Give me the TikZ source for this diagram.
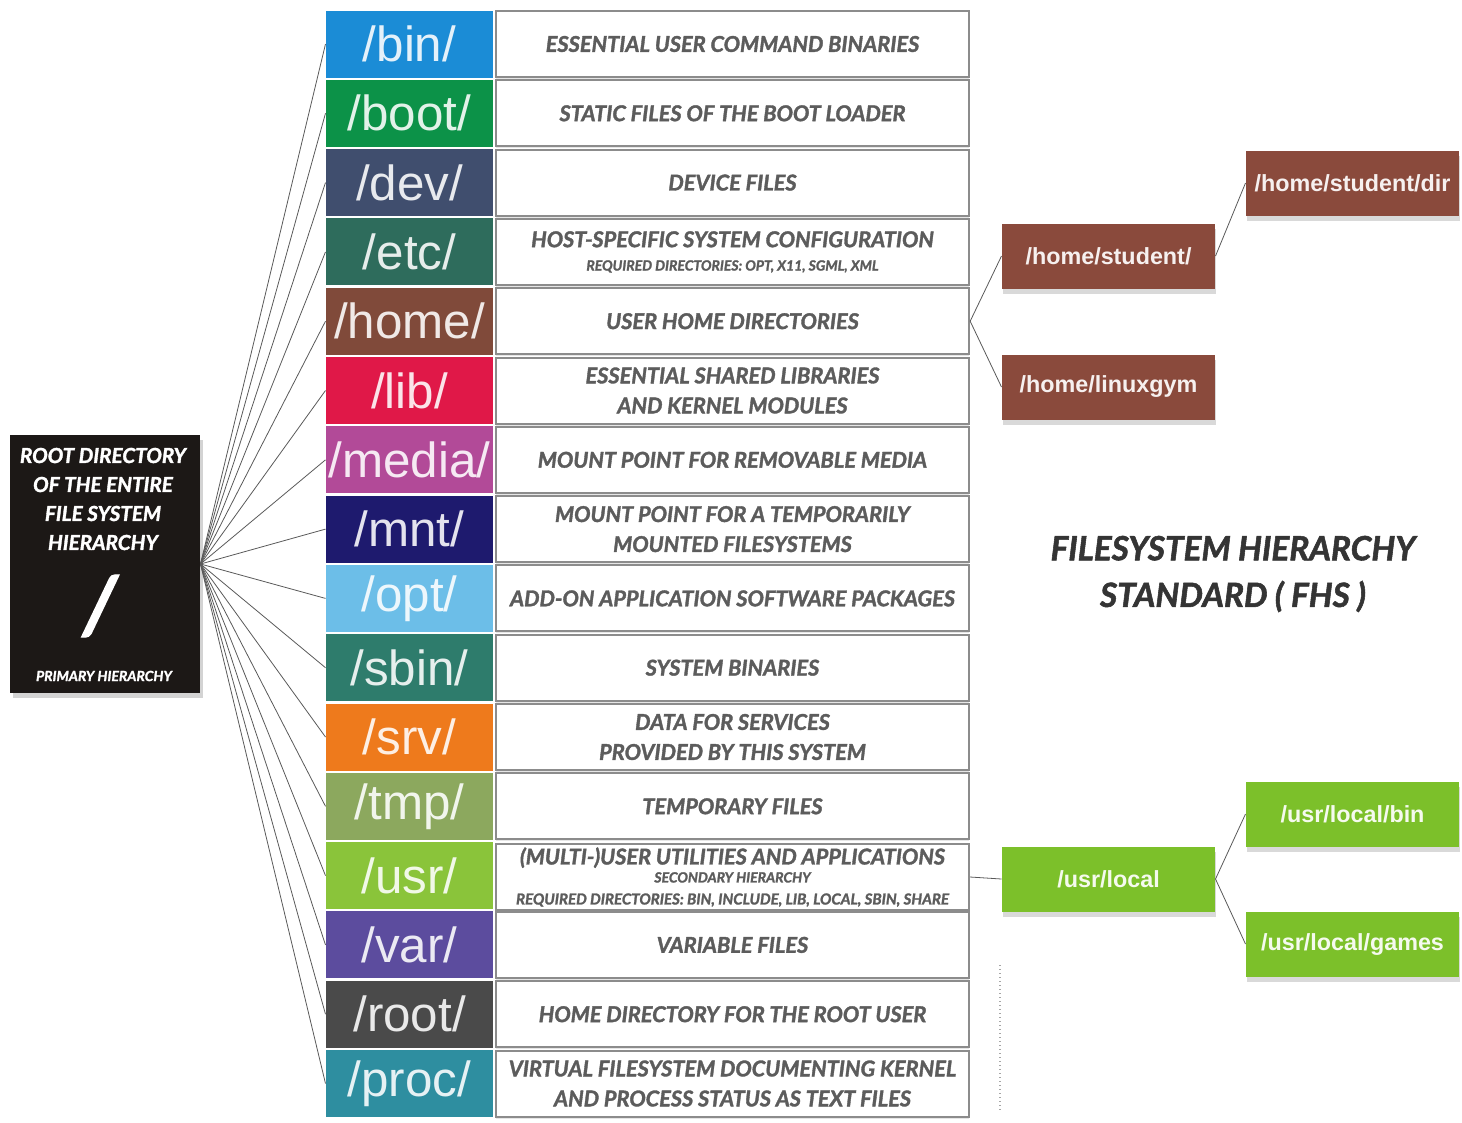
\documentclass[tikz,border=0pt]{standalone}
\usepackage{fontspec}
\setmainfont{Liberation Sans}
\newfontfamily\descfont{Lato}[BoldItalicFeatures={FakeBold=1.6}]
\usetikzlibrary{shadows}

\definecolor{cbin}{RGB}{27,140,214}
\definecolor{cboot}{RGB}{12,146,72}
\definecolor{cdev}{RGB}{64,78,110}
\definecolor{cetc}{RGB}{46,108,92}
\definecolor{chome}{RGB}{128,74,58}
\definecolor{clib}{RGB}{224,24,72}
\definecolor{cmedia}{RGB}{178,74,152}
\definecolor{cmnt}{RGB}{30,26,110}
\definecolor{copt}{RGB}{108,190,232}
\definecolor{csbin}{RGB}{46,124,108}
\definecolor{csrv}{RGB}{238,122,28}
\definecolor{ctmp}{RGB}{140,168,94}
\definecolor{cusr}{RGB}{138,196,58}
\definecolor{cvar}{RGB}{92,76,158}
\definecolor{croot}{RGB}{74,74,74}
\definecolor{cproc}{RGB}{46,142,160}
\definecolor{descgray}{RGB}{92,92,92}
\definecolor{boxline}{RGB}{140,140,140}
\definecolor{subbrown}{RGB}{138,74,60}
\definecolor{subgreen}{RGB}{124,192,42}
\definecolor{rootblack}{RGB}{28,24,22}
\definecolor{titlegray}{RGB}{52,52,52}

\tikzset{every picture/.style={line width=0.75pt},
  dirbox/.style={fill=#1, text=#1!12!white, minimum width=125.25pt, minimum height=50.25pt, inner sep=0pt, font=\fontsize{37}{37}\selectfont},
  descbox/.style={draw=boxline, fill=white, line width=1.5pt, minimum width=355pt, minimum height=49.5pt, inner sep=1pt, align=center, text=descgray, font=\descfont\bfseries\itshape\fontsize{16.3}{22.5}\selectfont, drop shadow={opacity=0.2, shadow xshift=0pt, shadow yshift=-1.5pt}},
  subbox/.style={fill=#1, text=#1!8!white, minimum width=159.75pt, minimum height=48.75pt, inner sep=0pt, font=\bfseries\fontsize{17.5}{17.5}\selectfont, drop shadow={opacity=0.3, shadow xshift=1pt, shadow yshift=-4pt}},
  roottext/.style={text=white, inner sep=0pt, align=center, font=\descfont\bfseries\itshape},
  fan/.style={draw=black!65, line width=0.6pt},
}

\begin{document}
\begin{tikzpicture}[x=0.75pt,y=0.75pt,yscale=-1,xscale=1]
\useasboundingbox (0,0) rectangle (1462,1122);

% Root box
\node [fill=rootblack, minimum width=142.5pt, minimum height=193.5pt, drop shadow={opacity=0.35, shadow xshift=2pt, shadow yshift=-4pt}] (rootdir) at (105,564) {};
\node [roottext, font=\descfont\bfseries\itshape\fontsize{15.5}{21.75}\selectfont] (roottitle) at (103,499) {ROOT DIRECTORY\\OF THE ENTIRE\\FILE SYSTEM\\HIERARCHY};
\node [roottext, font=\descfont\bfseries\itshape\fontsize{60}{60}\selectfont] (rootslash) at (100,606) {/};
\node [roottext, font=\descfont\bfseries\itshape\fontsize{10.5}{12}\selectfont] (rootprimary) at (104,676) {PRIMARY HIERARCHY};

% Directory boxes
\node [dirbox=cbin] (bin) at (409.5,44) {/bin/};
\node [dirbox=cboot] (boot) at (409.5,113.3) {/boot/};
\node [dirbox=cdev] (dev) at (409.5,182.6) {/dev/};
\node [dirbox=cetc] (etc) at (409.5,251.9) {/etc/};
\node [dirbox=chome] (home) at (409.5,321.2) {/home/};
\node [dirbox=clib] (lib) at (409.5,390.5) {/lib/};
\node [dirbox=cmedia] (media) at (409.5,459.8) {/media/};
\node [dirbox=cmnt] (mnt) at (409.5,529.1) {/mnt/};
\node [dirbox=copt] (opt) at (409.5,598.4) {/opt/};
\node [dirbox=csbin] (sbin) at (409.5,667.7) {/sbin/};
\node [dirbox=csrv] (srv) at (409.5,737) {/srv/};
\node [dirbox=ctmp] (tmp) at (409.5,806.3) {/tmp/};
\node [dirbox=cusr] (usr) at (409.5,875.6) {/usr/};
\node [dirbox=cvar] (var) at (409.5,944.9) {/var/};
\node [dirbox=croot] (rootd) at (409.5,1014.2) {/root/};
\node [dirbox=cproc] (proc) at (409.5,1083.5) {/proc/};

% Description boxes
\node [descbox] (binD) at (732.5,44) {ESSENTIAL USER COMMAND BINARIES};
\node [descbox] (bootD) at (732.5,113.3) {STATIC FILES OF THE BOOT LOADER};
\node [descbox] (devD) at (732.5,182.6) {DEVICE FILES};
\node [descbox] (etcD) at (732.5,251.9) {HOST-SPECIFIC SYSTEM CONFIGURATION\\[-5pt]{\fontsize{10.5}{12}\selectfont REQUIRED DIRECTORIES: OPT, X11, SGML, XML}};
\node [descbox] (homeD) at (732.5,321.2) {USER HOME DIRECTORIES};
\node [descbox] (libD) at (732.5,390.5) {ESSENTIAL SHARED LIBRARIES\\AND KERNEL MODULES};
\node [descbox] (mediaD) at (732.5,459.8) {MOUNT POINT FOR REMOVABLE MEDIA};
\node [descbox] (mntD) at (732.5,529.1) {MOUNT POINT FOR A TEMPORARILY\\MOUNTED FILESYSTEMS};
\node [descbox] (optD) at (732.5,598.4) {ADD-ON APPLICATION SOFTWARE PACKAGES};
\node [descbox] (sbinD) at (732.5,667.7) {SYSTEM BINARIES};
\node [descbox] (srvD) at (732.5,737) {DATA FOR SERVICES\\PROVIDED BY THIS SYSTEM};
\node [descbox] (tmpD) at (732.5,806.3) {TEMPORARY FILES};
\node [descbox] (usrD) at (732.5,877) {(MULTI-)USER UTILITIES AND APPLICATIONS\\[-9pt]{\fontsize{10.5}{11}\selectfont SECONDARY HIERARCHY}\\[-6pt]{\fontsize{11.3}{12}\selectfont REQUIRED DIRECTORIES: BIN, INCLUDE, LIB, LOCAL, SBIN, SHARE}};
\node [descbox] (varD) at (732.5,944.9) {VARIABLE FILES};
\node [descbox] (rootdD) at (732.5,1014.2) {HOME DIRECTORY FOR THE ROOT USER};
\node [descbox] (procD) at (732.5,1083.5) {VIRTUAL FILESYSTEM DOCUMENTING KERNEL\\AND PROCESS STATUS AS TEXT FILES};

%Straight Lines (fan from root)
\draw [fan] (rootdir.east) -- (bin.west);
\draw [fan] (rootdir.east) -- (boot.west);
\draw [fan] (rootdir.east) -- (dev.west);
\draw [fan] (rootdir.east) -- (etc.west);
\draw [fan] (rootdir.east) -- (home.west);
\draw [fan] (rootdir.east) -- (lib.west);
\draw [fan] (rootdir.east) -- (media.west);
\draw [fan] (rootdir.east) -- (mnt.west);
\draw [fan] (rootdir.east) -- (opt.west);
\draw [fan] (rootdir.east) -- (sbin.west);
\draw [fan] (rootdir.east) -- (srv.west);
\draw [fan] (rootdir.east) -- (tmp.west);
\draw [fan] (rootdir.east) -- (usr.west);
\draw [fan] (rootdir.east) -- (var.west);
\draw [fan] (rootdir.east) -- (rootd.west);
\draw [fan] (rootdir.east) -- (proc.west);

% /home subtree
\node [subbox=subbrown] (hstudent) at (1108.5,256) {/home/student/};
\node [subbox=subbrown] (hgym) at (1108.5,387) {/home/linuxgym};
\node [subbox=subbrown] (hdir) at (1352.5,183) {/home/student/dir};
\draw [fan] (homeD.east) -- (hstudent.west);
\draw [fan] (homeD.east) -- (hgym.west);
\draw [fan] (hstudent.east) -- (hdir.west);

% /usr subtree
\node [subbox=subgreen] (ulocal) at (1108.5,879) {/usr/local};
\node [subbox=subgreen] (ubin) at (1352.5,814) {/usr/local/bin};
\node [subbox=subgreen] (ugames) at (1352.5,944) {/usr/local/games};
\draw [fan] (usrD.east) -- (ulocal.west);
\draw [fan] (ulocal.east) -- (ubin.west);
\draw [fan] (ulocal.east) -- (ugames.west);

% Title
\node [text=titlegray, align=center, font=\descfont\bfseries\itshape\fontsize{25}{35}\selectfont] (fhstitle) at (1233,574) {FILESYSTEM HIERARCHY\\STANDARD ( FHS )};

%Dotted line
\draw [black!35, dotted, line width=1pt] (1000,965) -- (1000,1110);

\end{tikzpicture}
\end{document}
